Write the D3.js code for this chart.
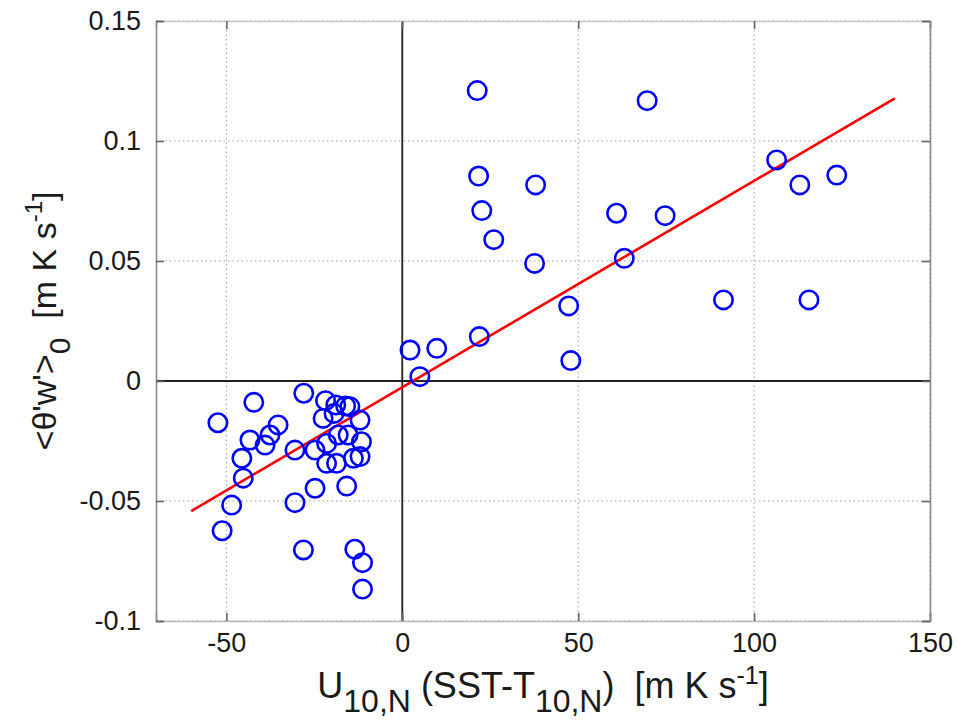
<!DOCTYPE html>
<html><head><meta charset="utf-8">
<script src="https://cdn.jsdelivr.net/npm/d3@7"></script>
<style>body{margin:0;background:#fff}svg{display:block}text{font-family:"Liberation Sans",Arial,sans-serif;fill:#1a1a1a;white-space:pre}</style>
</head><body><div id="c"></div>
<script>
const xValues = [21.3,69.6,21.7,37.9,106.4,113.0,123.5,22.6,60.9,74.7,26.0,37.6,63.1,47.3,91.3,115.6,21.9,47.9,2.2,9.8,5.0,
 -28.0,-42.2,-52.4,-21.8,-18.9,-16.1,-14.9,-22.5,-19.4,-12.0,-35.3,-37.6,-39.0,-43.3,-30.5,-24.8,-21.5,-18.2,-15.4,-11.6,
 -21.5,-18.7,-13.9,-12.0,-45.6,-45.2,-24.8,-15.8,-48.5,-30.5,-51.2,-28.1,-13.5,-11.3,-11.3];
const yValues = [0.121,0.1168,0.0854,0.0817,0.0921,0.0817,0.0858,0.071,0.0699,0.0689,0.0589,0.049,0.0511,0.0313,0.0338,0.0338,0.0185,0.0085,0.0129,0.0136,0.0018,
 -0.0051,-0.0089,-0.0174,-0.0082,-0.0100,-0.0104,-0.0107,-0.0156,-0.0135,-0.0163,-0.0183,-0.0225,-0.0267,-0.0246,-0.0288,-0.0288,-0.0260,-0.0225,-0.0225,-0.0253,
 -0.0343,-0.0343,-0.0322,-0.0315,-0.0322,-0.0405,-0.0447,-0.0438,-0.0517,-0.0507,-0.0624,-0.0704,-0.0701,-0.0757,-0.0867];
const fitX = [-60, 140];
const fitY = [-0.0542, 0.1178];
const xTicks = [-50, 0, 50, 100, 150];
const yTicks = [-0.1, -0.05, 0, 0.05, 0.1, 0.15];
const xTickLabels = ["-50","0","50","100","150"];
const yTickLabels = ["-0.1","-0.05","0","0.05","0.1","0.15"];

const W = 957, H = 728;
const L = 156, R = 930, T = 21, B = 621;
const svg = d3.select("#c").append("svg").attr("width", W).attr("height", H);
const x = d3.scaleLinear().domain([-70, 150]).range([L, R]);
const y = d3.scaleLinear().domain([-0.1, 0.15]).range([B, T]);

// grid
const g = svg.append("g");
g.selectAll(".gx").data(xTicks.filter(d => d !== 0)).join("line")
  .attr("x1", d => x(d)).attr("x2", d => x(d)).attr("y1", T).attr("y2", B)
  .attr("stroke", "#9a9a9a").attr("stroke-width", 1).attr("stroke-dasharray", "1.5,3");
g.selectAll(".gy").data(yTicks.filter(d => d !== 0)).join("line")
  .attr("y1", d => y(d)).attr("y2", d => y(d)).attr("x1", L).attr("x2", R)
  .attr("stroke", "#9a9a9a").attr("stroke-width", 1).attr("stroke-dasharray", "1.5,3");

// zero lines
svg.append("line").attr("x1", x(0)).attr("x2", x(0)).attr("y1", T).attr("y2", B).attr("stroke", "#222").attr("stroke-width", 1.8);
svg.append("line").attr("x1", L).attr("x2", R).attr("y1", y(0)).attr("y2", y(0)).attr("stroke", "#222").attr("stroke-width", 1.8);

// axes via d3
const axB = d3.axisBottom(x).tickValues(xTicks).tickSize(-8).tickPadding(12).tickFormat((d,i) => xTickLabels[i]);
const axT = d3.axisTop(x).tickValues(xTicks).tickSize(-8).tickFormat("");
const axL = d3.axisLeft(y).tickValues(yTicks).tickSize(-8).tickPadding(15).tickFormat((d,i) => yTickLabels[i]);
const axR = d3.axisRight(y).tickValues(yTicks).tickSize(-8).tickFormat("");
function style(sel, col){
  sel.select(".domain").attr("stroke", col).attr("stroke-width", 1.6);
  sel.selectAll(".tick line").attr("stroke", "#666").attr("stroke-width", 1.6);
  sel.selectAll(".tick text").attr("font-size", 27).attr("fill", "#1a1a1a").attr("font-family", '"Liberation Sans",Arial,sans-serif');
}
svg.append("g").attr("transform", `translate(0,${B})`).call(axB).call(s => style(s, "#b8b8b8"));
svg.append("g").attr("transform", `translate(0,${T})`).call(axT).call(s => style(s, "#c8c8c8"));
svg.append("g").attr("transform", `translate(${L},0)`).call(axL).call(s => style(s, "#8a8a8a"));
svg.append("g").attr("transform", `translate(${R},0)`).call(axR).call(s => style(s, "#8a8a8a"));

// fit line
svg.append("line").attr("x1", x(fitX[0])).attr("y1", y(fitY[0])).attr("x2", x(fitX[1])).attr("y2", y(fitY[1]))
  .attr("stroke", "#ff0000").attr("stroke-width", 2.6);

// points
const pts = xValues.map((v, i) => [v, yValues[i]]);
svg.append("g").selectAll("circle").data(pts).join("circle")
  .attr("cx", d => x(d[0])).attr("cy", d => y(d[1])).attr("r", 9.2)
  .attr("fill", "none").attr("stroke", "#0000ff").attr("stroke-width", 2.6);

// x label
const xl = svg.append("text").attr("x", (L + R) / 2).attr("y", 698).attr("text-anchor", "middle").attr("font-size", 36);
xl.append("tspan").text("U");
xl.append("tspan").attr("dy", 14).attr("font-size", 32).text("10,N");
xl.append("tspan").attr("dy", -14).text(" (SST-T");
xl.append("tspan").attr("dy", 14).attr("font-size", 32).text("10,N");
xl.append("tspan").attr("dy", -14).text(")  [m K s");
xl.append("tspan").attr("dy", -14).attr("font-size", 25).text("-1");
xl.append("tspan").attr("dy", 14).text("]");

// y label
const yl = svg.append("text").attr("transform", `translate(56,${(T + B) / 2}) rotate(-90)`).attr("text-anchor", "middle").attr("font-size", 34);
yl.append("tspan").text("<θ'w'>");
yl.append("tspan").attr("dy", 14).attr("font-size", 30).text("0");
yl.append("tspan").attr("dy", -14).text("  [m K s");
yl.append("tspan").attr("dy", -14).attr("font-size", 24).text("-1");
yl.append("tspan").attr("dy", 14).text("]");
</script></body></html>
